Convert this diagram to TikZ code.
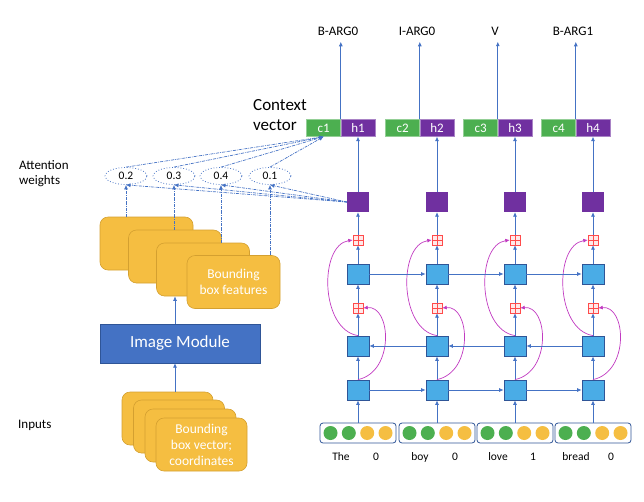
\documentclass[tikz,border=0pt]{standalone}
\usepackage{fontspec}
\setmainfont{Carlito}
\usetikzlibrary{positioning,arrows.meta,shapes.geometric}
\definecolor{lineblue}{HTML}{4472C4}
\definecolor{cellblue}{HTML}{4AACE6}
\definecolor{cellborder}{HTML}{2F5597}
\definecolor{cgreen}{HTML}{4CAF50}
\definecolor{hpurple}{HTML}{7030A0}
\definecolor{boxgold}{HTML}{F5BE41}
\definecolor{goldborder}{HTML}{D4A030}
\definecolor{plusred}{HTML}{FF4B4B}
\definecolor{skipmag}{HTML}{C13BC1}
\definecolor{modblue}{HTML}{4472C4}

\begin{document}
\begin{tikzpicture}[x=1pt, y=-1pt, >={Latex[length=4.5pt,width=4pt]},
  conn/.style={lineblue, line width=0.7pt},
  att/.style={lineblue, line width=0.7pt, densely dash dot},
  skip/.style={skipmag, line width=0.7pt},
  cell/.style={draw=cellborder, line width=0.8pt, fill=cellblue, minimum width=22pt, minimum height=20pt, inner sep=0pt},
  attn/.style={fill=hpurple, minimum width=22pt, minimum height=20pt, inner sep=0pt},
  hbox/.style={fill=hpurple, draw=hpurple!60!white, text=white, minimum width=34pt, minimum height=17pt, inner sep=0pt, font=\fontsize{13}{15}\selectfont},
  cbox/.style={fill=cgreen, draw=cgreen!60!white, text=white, minimum width=34pt, minimum height=17pt, inner sep=0pt, font=\fontsize{13}{15}\selectfont},
  addbox/.style={draw=plusred, fill=plusred!12, minimum size=10pt, inner sep=0pt,
    path picture={\draw[plusred] (path picture bounding box.north) -- (path picture bounding box.south)
      (path picture bounding box.west) -- (path picture bounding box.east);}},
  wbox/.style={ellipse, draw=lineblue, dotted, line width=0.8pt, minimum width=42pt, minimum height=17pt, inner sep=0pt, font=\fontsize{11.5}{13}\selectfont},
  inbox/.style={draw=cellborder, rounded corners=3pt, line width=0.8pt, minimum width=76pt, minimum height=20pt, inner sep=0pt},
  gold/.style={fill=boxgold, draw=goldborder, line width=0.6pt, rounded corners=8pt, text=white, align=center, inner sep=0pt, font=\fontsize{13.5}{16}\selectfont},
  lab/.style={font=\fontsize{13}{15}\selectfont},
  word/.style={font=\fontsize{11.5}{13}\selectfont}]

\useasboundingbox (0,0) rectangle (644,501);

% side texts
\node[anchor=west, align=left, inner sep=0pt, font=\fontsize{17}{20}\selectfont] (ctx) at (253,115) {Context\\vector};
\node[anchor=west, align=left, inner sep=0pt, font=\fontsize{13}{15}\selectfont] (attw) at (19,174) {Attention\\weights};
\node[anchor=west, inner sep=0pt, font=\fontsize{13}{15}\selectfont] (inputs) at (18,425) {Inputs};

% image side
\node[gold, minimum width=93pt, minimum height=53pt] (feat1) at (146.5,243.5) {};
\node[gold, minimum width=93pt, minimum height=53pt] (feat2) at (175,256.5) {};
\node[gold, minimum width=93pt, minimum height=53pt] (feat3) at (203,269.5) {};
\node[gold, minimum width=93pt, minimum height=53pt] (feat4) at (233.5,282) {Bounding\\box features};

\node[fill=modblue, draw=cellborder, text=white, minimum width=160pt, minimum height=39pt, font=\fontsize{17}{20}\selectfont] (img) at (180,343.5) {Image Module};

\node[gold, minimum width=91pt, minimum height=53pt] (bb1) at (167.5,418.5) {};
\node[gold, minimum width=91pt, minimum height=53pt] (bb2) at (179,426.5) {};
\node[gold, minimum width=91pt, minimum height=53pt] (bb3) at (190.5,435.5) {};
\node[gold, minimum width=91pt, minimum height=53pt] (bb4) at (201.5,444.5) {Bounding\\box vector;\\coordinates};

\draw[conn,->] (bb1.north -| feat2.center) -- (feat2.center |- img.south);
\draw[conn,->] (img.north -| feat2.center) -- (feat2.center |- feat3.south);

% attention weights
\node[wbox] (w1) at (126,176) {0.2};
\node[wbox] (w2) at (174,176) {0.3};
\node[wbox] (w3) at (221,176) {0.4};
\node[wbox] (w4) at (270,176) {0.1};

% columns
\foreach \i/\x/\t in {1/358/B-ARG0, 2/437/I-ARG0, 3/515/V, 4/593/B-ARG1} {
  \node[hbox] (h\i) at (\x,128) {h\i};
  \node[cbox, left=0pt of h\i] (c\i) {c\i};
  \node[lab] (lab\i) at ({\x-20},31) {\t};
  \node[attn] (att\i) at (\x,202) {};
  \node[addbox] (pa\i) at (\x,240) {};
  \node[cell] (fwd\i) at (\x,274) {};
  \node[addbox] (pb\i) at (\x,308) {};
  \node[cell] (bwd\i) at (\x,346) {};
  \node[cell] (emb\i) at (\x,390) {};
  \node[inbox] (inp\i) at (\x,433) {};
  \fill[cgreen] ({\x-27.5},433) circle (7pt);
  \fill[cgreen] ({\x-9.2},433) circle (7pt);
  \fill[boxgold] ({\x+9.2},433) circle (7pt);
  \fill[boxgold] ({\x+27.5},433) circle (7pt);

  \draw[conn,->] (h\i.north west) -- ([yshift=-3pt]lab\i.south -| h\i.north west);
  \draw[conn,->] (att\i.north) -- (h\i.south);
  \draw[conn,->] (pa\i.north) -- (att\i.south);
  \draw[conn,->] (fwd\i.north) -- (pa\i.south);
  \draw[conn,->] (pb\i.north) -- (fwd\i.south);
  \draw[conn,->] (bwd\i.north) -- (pb\i.south);
  \draw[conn,->] (emb\i.north) -- (bwd\i.south);
  \draw[conn,->] (inp\i.north) -- (emb\i.south);

  \draw[skip,->] (emb\i.north) .. controls +(37,-8) and +(28,-3) .. (pb\i.east);
  \draw[skip,->] (bwd\i.north) .. controls +(-38,-6) and +(-34,5) .. (pa\i.west);
}

% words under the inputs
\foreach \i/\x/\w/\v in {1/358/The/0, 2/437/boy/0, 3/515/love/1, 4/593/bread/0} {
  \node[word] (wd\i) at ({\x-17},457) {\w};
  \node[word] (val\i) at ({\x+18},457) {\v};
}

% recurrent links
\foreach \i/\j in {1/2, 2/3, 3/4} {
  \draw[conn,->] (fwd\i.east) -- (fwd\j.west);
  \draw[conn,->] (bwd\j.west) -- (bwd\i.east);
  \draw[conn,->] (emb\i.east) -- (emb\j.west);
}

% attention links
\foreach \i in {1,...,4} {
  \draw[att,->] (w\i.north) -- (c1.south);
  \draw[att,->] (att1.west) -- (w\i.south);
  \draw[att,->] (w\i.south |- feat\i.north) -- (w\i.south);
}

\end{tikzpicture}
\end{document}
